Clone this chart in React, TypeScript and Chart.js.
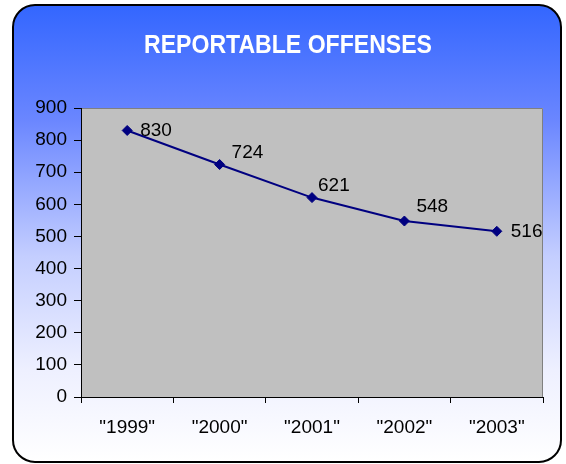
import React, { useEffect, useRef } from "react";
import { Chart, registerables } from "chart.js";

Chart.register(...registerables);

const categories = ['"1999"', '"2000"', '"2001"', '"2002"', '"2003"'];
const offenses = [830, 724, 621, 548, 516];
const yMin = 0;
const yMax = 900;
const yStep = 100;
const titleText = "REPORTABLE OFFENSES";
const labelDx = [13, 12, 6, 12, 14];
const labelDy = [0, -12, -12, -14, 0];

const FONT = "'Liberation Sans', Arial, sans-serif";

function roundRect(ctx: CanvasRenderingContext2D, x: number, y: number, w: number, h: number, r: number) {
  ctx.beginPath();
  ctx.moveTo(x + r, y);
  ctx.lineTo(x + w - r, y);
  ctx.arcTo(x + w, y, x + w, y + r, r);
  ctx.lineTo(x + w, y + h - r);
  ctx.arcTo(x + w, y + h, x + w - r, y + h, r);
  ctx.lineTo(x + r, y + h);
  ctx.arcTo(x, y + h, x, y + h - r, r);
  ctx.lineTo(x, y + r);
  ctx.arcTo(x, y, x + r, y, r);
  ctx.closePath();
}

const bgPlugin = {
  id: "bgPlugin",
  beforeDraw(chart: any) {
    const ctx = chart.ctx as CanvasRenderingContext2D;
    const { left, right, top, bottom } = chart.chartArea;
    ctx.save();
    ctx.fillStyle = "#ffffff";
    ctx.fillRect(0, 0, chart.width, chart.height);
    const g = ctx.createLinearGradient(0, 5, 0, 462);
    g.addColorStop(0, "#3366ff");
    g.addColorStop(0.25, "#6a86ff");
    g.addColorStop(0.55, "#c4ceff");
    g.addColorStop(0.8, "#eef0ff");
    g.addColorStop(1, "#ffffff");
    roundRect(ctx, 13, 5, 548, 457, 22);
    ctx.fillStyle = g;
    ctx.fill();
    ctx.lineWidth = 2;
    ctx.strokeStyle = "#000000";
    ctx.stroke();
    // plot area
    ctx.fillStyle = "#c0c0c0";
    ctx.fillRect(left, top, right - left, bottom - top);
    ctx.strokeStyle = "#808080";
    ctx.lineWidth = 1;
    ctx.beginPath();
    ctx.moveTo(left, top + 0.5);
    ctx.lineTo(right - 0.5, top + 0.5);
    ctx.lineTo(right - 0.5, bottom);
    ctx.stroke();
    // title
    ctx.fillStyle = "#ffffff";
    ctx.font = `bold 25px ${FONT}`;
    ctx.textAlign = "left";
    ctx.textBaseline = "alphabetic";
    const w = ctx.measureText(titleText).width;
    const targetW = 288;
    const sx = targetW / w;
    ctx.translate(144, 53);
    ctx.scale(sx, 1);
    ctx.fillText(titleText, 0, 0);
    ctx.restore();
  },
};

const labelPlugin = {
  id: "labelPlugin",
  afterDatasetsDraw(chart: any) {
    const ctx = chart.ctx as CanvasRenderingContext2D;
    const meta = chart.getDatasetMeta(0);
    ctx.save();
    ctx.fillStyle = "#000000";
    ctx.font = `19px ${FONT}`;
    ctx.textAlign = "left";
    ctx.textBaseline = "middle";
    meta.data.forEach((pt: any, i: number) => {
      ctx.fillText(String(offenses[i]), pt.x + (labelDx[i] ?? 12), pt.y + (labelDy[i] || 0));
    });
    ctx.restore();
  },
};

export default function App() {
  const ref = useRef<HTMLCanvasElement | null>(null);
  useEffect(() => {
    document.body.style.margin = "0";
    if (!ref.current) return;
    const chart = new Chart(ref.current, {
      type: "line",
      data: {
        labels: categories,
        datasets: [
          {
            data: offenses,
            borderColor: "#000080",
            backgroundColor: "#000080",
            borderWidth: 2,
            pointStyle: "rectRot",
            pointRadius: 5,
            pointBorderWidth: 1,
            tension: 0,
            fill: false,
          },
        ],
      },
      options: {
        responsive: false,
        animation: false,
        layout: { padding: { top: 108, right: 23, left: 0, bottom: 0 } },
        plugins: {
          legend: { display: false },
          tooltip: { enabled: false },
          title: { display: false },
        },
        scales: {
          x: {
            offset: true,
            grid: {
              display: true,
              drawOnChartArea: false,
              drawTicks: true,
              tickLength: 6,
              color: "#000000",
              offset: true,
            },
            border: { display: true, color: "#000000", width: 1 },
            ticks: { color: "#000000", font: { family: FONT, size: 19 }, padding: 13, maxRotation: 0 },
            afterFit(scale: any) {
              scale.height = 67;
            },
          },
          y: {
            min: yMin,
            max: yMax,
            ticks: { stepSize: yStep, color: "#000000", font: { family: FONT, size: 19 }, padding: 7 },
            grid: {
              display: true,
              drawOnChartArea: false,
              drawTicks: true,
              tickLength: 7,
              color: "#000000",
            },
            border: { display: true, color: "#000000", width: 1 },
            afterFit(scale: any) {
              scale.width = 81;
            },
          },
        },
      },
      plugins: [bgPlugin, labelPlugin],
    });
    return () => chart.destroy();
  }, []);
  return (
    <div style={{ width: 566, height: 464 }}>
      <canvas ref={ref} width={566} height={464} />
    </div>
  );
}
